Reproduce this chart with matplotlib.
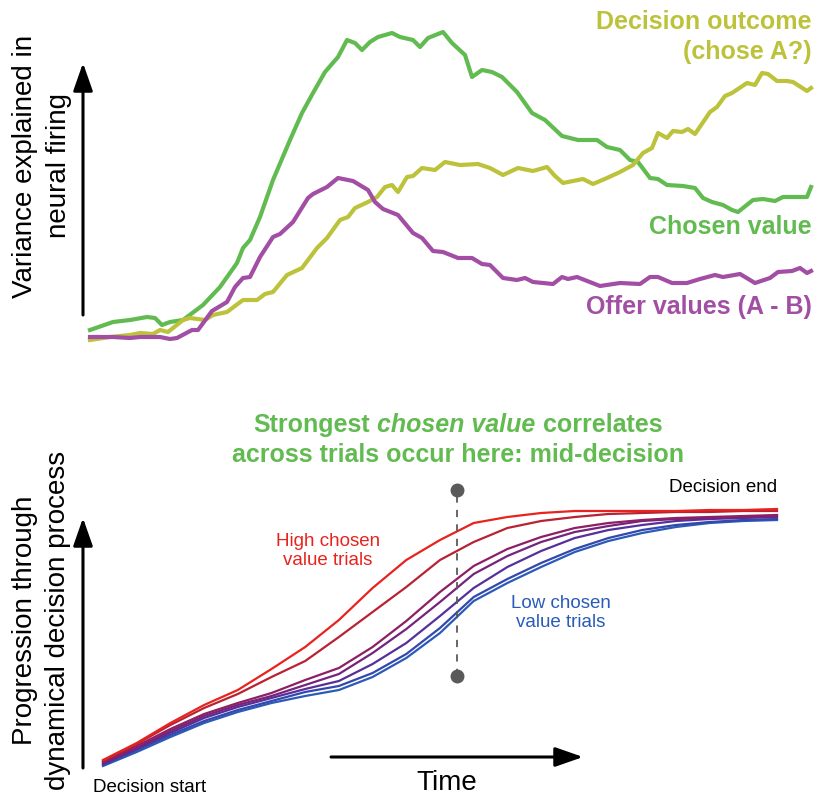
import numpy as np
import matplotlib
matplotlib.use('Agg')
import matplotlib.pyplot as plt

plt.rcParams['font.family'] = ['Liberation Sans', 'DejaVu Sans']

#==============================================================================
# top panel: variance explained (arbitrary units)
#==============================================================================

t_chosen = [0, 23, 40, 57, 65, 72, 80, 93, 113, 130, 147, 153, 160, 170, 183, 200, 212, 223,
            235, 248, 257, 265, 272, 280, 288, 302, 310, 323, 330, 338, 353, 362, 375, 382,
            392, 402, 412, 427, 442, 455, 472, 488, 507, 517, 530, 540, 548, 560, 568, 577,
            593, 605, 613, 622, 633, 642, 648, 663, 673, 685, 693, 707, 717, 721]
v_chosen = [15, 23, 25, 28, 27, 20, 23, 25, 40, 58, 82, 97, 105, 128, 165, 205, 232, 252,
            273, 288, 305, 302, 295, 303, 308, 312, 308, 305, 298, 307, 313, 302, 290, 268,
            275, 273, 268, 253, 232, 225, 209, 205, 205, 198, 195, 185, 183, 167, 166, 160,
            159, 157, 147, 143, 140, 135, 133, 145, 146, 144, 148, 148, 148, 158]

t_outcome = [0, 20, 40, 50, 63, 70, 78, 93, 100, 115, 123, 137, 153, 167, 175, 183, 197, 212,
             227, 237, 250, 258, 265, 278, 287, 295, 302, 308, 317, 323, 332, 345, 355, 370,
             388, 400, 413, 428, 443, 457, 465, 473, 493, 503, 517, 530, 543, 553, 562, 568,
             577, 583, 592, 598, 605, 620, 627, 635, 642, 657, 665, 672, 678, 687, 697, 703,
             717, 721]
v_outcome = [5, 8, 10, 12, 11, 15, 13, 25, 27, 25, 30, 33, 45, 45, 51, 53, 70, 77,
             97, 107, 125, 128, 137, 143, 148, 158, 160, 153, 168, 169, 177, 175, 183, 180,
             181, 177, 170, 177, 174, 178, 169, 162, 166, 161, 167, 173, 180, 192, 197, 212,
             207, 214, 213, 216, 211, 233, 238, 249, 252, 262, 260, 272, 271, 264, 264, 263,
             254, 257]

t_offer = [0, 23, 40, 50, 70, 80, 87, 102, 108, 122, 137, 145, 153, 160, 170, 183, 190, 203,
           218, 223, 237, 248, 263, 278, 285, 293, 308, 323, 332, 343, 353, 368, 382, 392,
           400, 413, 427, 435, 443, 463, 472, 478, 487, 510, 530, 550, 560, 568, 582, 597,
           610, 625, 633, 650, 665, 680, 688, 702, 710, 717, 721]
v_offer = [8, 8, 7, 8, 8, 6, 7, 15, 15, 34, 43, 58, 67, 68, 88, 108, 111, 123,
           147, 151, 158, 167, 164, 155, 143, 136, 130, 112, 107, 94, 93, 87, 87, 81,
           80, 67, 65, 67, 63, 61, 68, 66, 68, 59, 62, 61, 68, 68, 62, 62,
           66, 70, 68, 71, 62, 67, 73, 74, 77, 72, 74]

#==============================================================================
# bottom panel: progression through decision (arbitrary units), high -> low value
#==============================================================================

t_prog = np.arange(0, 101, 5)
prog_1 = [10, 27, 47, 65, 80, 101, 123, 150, 182, 210, 230, 247, 253, 257, 259, 259, 259, 259, 260, 260, 261]
prog_2 = [9, 26, 45, 62, 76, 93, 109, 133, 158, 183, 210, 228, 242, 249, 253, 256, 257, 258, 258, 259, 259]
prog_3 = [8, 24, 41, 56, 67, 77, 90, 102, 123, 149, 178, 204, 221, 233, 242, 247, 250, 252, 253, 254, 255]
prog_4 = [7, 22, 39, 54, 65, 74, 85, 96, 117, 141, 168, 196, 214, 228, 238, 244, 249, 251, 252, 253, 254]
prog_5 = [6, 21, 37, 52, 63, 72, 81, 89, 106, 127, 154, 182, 203, 219, 232, 240, 245, 249, 251, 252, 253]
prog_6 = [5, 20, 35, 49, 60, 69, 78, 84, 97, 116, 142, 173, 191, 207, 221, 232, 240, 245, 248, 250, 251]
prog_7 = [4, 18, 33, 47, 58, 67, 74, 80, 93, 112, 137, 169, 187, 203, 218, 229, 237, 243, 247, 249, 250]
lis_prog = [prog_1, prog_2, prog_3, prog_4, prog_5, prog_6, prog_7]
lis_prog_color = ['#e8231e', '#b82233', '#8e1f62', '#76237e', '#55309a', '#3447ad', '#2a5bb8']

t_mid = 52.5
p_mid = [94, 280]

#==============================================================================

c_green = '#62bb50'
c_yellow = '#bdc23b'
c_purple = '#a24ea4'

fig = plt.figure(figsize=(8.25, 8.06), dpi=100)
ax1 = fig.add_axes([0, 1 - 380 / 806, 1, 380 / 806])
ax2 = fig.add_axes([0, 0, 1, 426 / 806])

# ---- top
ax1.plot(t_chosen, v_chosen, color=c_green, lw=3)
ax1.plot(t_outcome, v_outcome, color=c_yellow, lw=3)
ax1.plot(t_offer, v_offer, color=c_purple, lw=3)
ax1.set_xlim(-90, 735)
ax1.set_ylim(-35, 345)
ax1.axis('off')

arr = dict(arrowstyle='-|>,head_length=1.0,head_width=0.35', lw=2.2, color='k',
           mutation_scale=17, shrinkA=0, shrinkB=0)
ax1.annotate('', xy=(-7, 282), xytext=(-7, 30), arrowprops=arr)
ax1.text(-48, 179, 'Variance explained in\nneural firing', rotation=90, ha='center',
         va='center', fontsize=20, linespacing=1.42)

ax1.text(722, 308, 'Decision outcome\n(chose A?)', ha='right', va='center',
         multialignment='right', fontsize=18, weight='bold', color=c_yellow, linespacing=1.3)
ax1.text(722, 118, 'Chosen value', ha='right', va='center', fontsize=18,
         weight='bold', color=c_green)
ax1.text(722, 38, 'Offer values (A - B)', ha='right', va='center', fontsize=18,
         weight='bold', color=c_purple)

# ---- bottom
for prog, col in zip(lis_prog[::-1], lis_prog_color[::-1]):
    ax2.plot(t_prog, prog, color=col, lw=1.6)

ax2.plot([t_mid, t_mid], p_mid, ls=(0, (4, 4)), color='#5a5a5a', lw=1.3)
ax2.plot([t_mid, t_mid], p_mid, ls='none', marker='o', ms=9, color='#5a5a5a')

ax2.set_xlim(-15.282, 107.122)
ax2.set_ylim(-36, 390)
ax2.axis('off')

ax2.annotate('', xy=(-2.97, 252), xytext=(-2.97, 2), arrowprops=arr)
ax2.annotate('', xy=(71.22, 13), xytext=(33.83, 13), arrowprops=arr)
ax2.text(51.0, -13, 'Time', ha='center', va='center', fontsize=20)

ax2.text(-9.1, 150, 'Progression through\ndynamical decision process', rotation=90,
         ha='center', va='center', fontsize=20, linespacing=1.35)
ax2.text(6.97, -18, 'Decision start', ha='center', va='center', fontsize=13.5)
ax2.text(92.0, 283, 'Decision end', ha='center', va='center', fontsize=13.5)
ax2.text(33.4, 219, 'High chosen\nvalue trials', ha='center', va='center',
         multialignment='center', fontsize=13.5, color=lis_prog_color[0], linespacing=1.15)
ax2.text(67.95, 157, 'Low chosen\nvalue trials', ha='center', va='center',
         multialignment='center', fontsize=13.5, color=lis_prog_color[-1], linespacing=1.15)

# title, first line has an italic piece
t_title = 52.67
ax2.text(t_title, 315, 'across trials occur here: mid-decision', ha='center', va='center',
         fontsize=18, weight='bold', color=c_green)

fig.canvas.draw()
r = fig.canvas.get_renderer()
lis_part = [('Strongest', 'normal'), ('chosen value', 'italic'), ('correlates', 'normal')]
lis_obj = [ax2.text(0, 345, s, style=st, weight='bold', fontsize=18, color=c_green,
                    ha='left', va='center') for s, st in lis_part]
v_w = [o.get_window_extent(r).width for o in lis_obj]
gap = 0.278 * 18 * fig.dpi / 72
cx, cy = ax2.transData.transform((t_title, 345))
x = cx - (sum(v_w) + 2 * gap) / 2
for o, w in zip(lis_obj, v_w):
    o.set_position(ax2.transData.inverted().transform((x, cy)))
    x += w + gap

fig.savefig('out.png', dpi=100)
